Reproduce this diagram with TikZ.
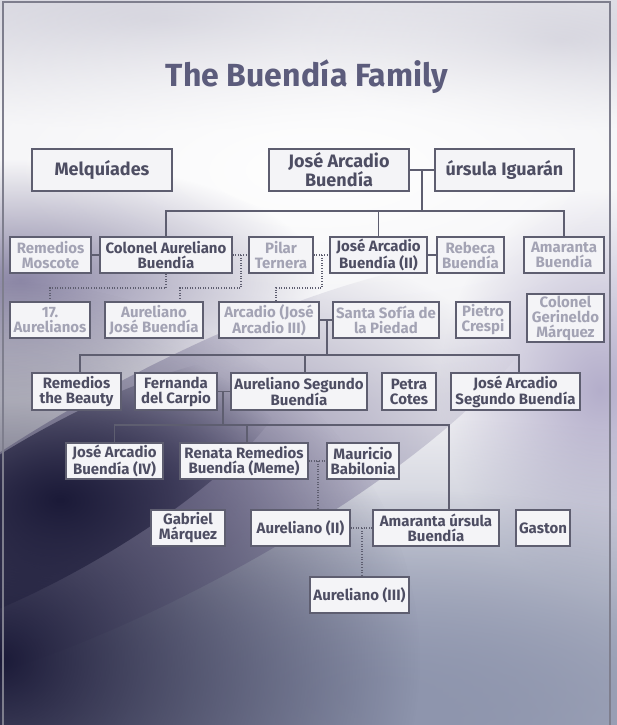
\documentclass[tikz,border=0pt]{standalone}
\usepackage{fontspec}
\setmainfont{Fira Sans}
\usetikzlibrary{fadings}
\definecolor{ink}{HTML}{4E4E63}
\definecolor{pale}{HTML}{A3A3B4}
\definecolor{edge}{HTML}{5E5E70}
\definecolor{boxfill}{HTML}{F4F4F7}
\definecolor{titlecol}{HTML}{5C5C7C}
\definecolor{bgbase}{HTML}{EEEEF2}
\definecolor{cloud}{HTML}{C6C5D2}
\definecolor{mauve}{HTML}{8C87A6}
\definecolor{navy}{HTML}{1B1A38}
\definecolor{steel}{HTML}{8E95AD}
\definecolor{lilac}{HTML}{B4AECB}
\tikzfading[name=soft, inner color=transparent!0, outer color=transparent!100]

\begin{document}
\begin{tikzpicture}[x=1pt,y=-1pt,
  b/.style={draw=edge,line width=1.3pt,fill=boxfill,inner sep=0pt,align=center,text=ink,
    font=\bfseries\fontsize{15}{15}\selectfont,minimum height=36pt},
  big/.style={b,font=\bfseries\fontsize{18}{16}\selectfont,minimum height=42pt},
  p/.style={b,text=pale},
  l/.style={draw=edge,line width=1.3pt},
  d/.style={draw=edge,line width=1.2pt,dash pattern=on 1pt off 1.6pt}]
\useasboundingbox (0,0) rectangle (617,725);

\fill[bgbase] (0,0) rectangle (617,725);
\begin{scope}
\clip (0,0) rectangle (617,725);
\fill[cloud,path fading=soft] (160,20) ellipse (420 and 110);
\fill[cloud,path fading=soft] (560,40) ellipse (260 and 90);
\fill[white,path fading=soft] (320,170) ellipse (620 and 240);
\fill[mauve,path fading=soft] (20,280) ellipse (300 and 120);
\fill[lilac,path fading=soft] (600,390) ellipse (160 and 200);
\fill[steel,path fading=soft] (420,720) ellipse (760 and 300);
\fill[steel,path fading=soft] (380,690) ellipse (560 and 200);
\fill[mauve,path fading=soft,rotate around={28:(170,480)}] (170,480) ellipse (420 and 110);
\fill[navy,path fading=soft] (0,660) ellipse (420 and 380);
\fill[navy,path fading=soft,rotate around={30:(60,500)}] (60,500) ellipse (260 and 70);
\end{scope}
\draw[edge!80,line width=1.2pt] (3,725) -- (3,2) -- (610,2) -- (610,725);

\node[text=titlecol,font=\bfseries\fontsize{32}{32}\selectfont] (title) at (307,77) {The Buendía Family};

\node[big,minimum width=140pt] (mel) at (102,170) {Melquíades};
\node[big,minimum width=140pt] (jab) at (339,170) {José Arcadio\\Buendía};
\node[big,minimum width=139pt] (urs) at (504.5,170) {úrsula Iguarán};

\node[p,minimum width=81pt] (rmo) at (50.5,255) {Remedios\\Moscote};
\node[b,minimum width=132pt] (col) at (166,255) {Colonel Aureliano\\Buendía};
\node[p,minimum width=64pt] (pil) at (281,255) {Pilar\\Ternera};
\node[b,minimum width=97pt] (ja2) at (378.5,255) {José Arcadio\\Buendía (II)};
\node[p,minimum width=67pt] (reb) at (470.5,255) {Rebeca\\Buendía};
\node[p,minimum width=80pt] (ama) at (564,255) {Amaranta\\Buendía};

\node[p,minimum width=80pt] (a17) at (50,320) {17.\\Aurelianos};
\node[p,minimum width=98pt] (ajb) at (154,320) {Aureliano\\José Buendía};
\node[p,minimum width=100pt] (arc) at (269,320) {Arcadio (José\\Arcadio III)};
\node[p,minimum width=106pt] (ssp) at (386,320) {Santa Sofía de\\la Piedad};
\node[p,minimum width=54pt] (pie) at (483,320) {Pietro\\Crespi};
\node[p,minimum width=77pt,minimum height=48pt] (ger) at (565.5,318) {Colonel\\Gerineldo\\Márquez};

\node[b,minimum width=89pt,minimum height=37pt] (rbe) at (76.5,391.5) {Remedios\\the Beauty};
\node[b,minimum width=82pt,minimum height=37pt] (fer) at (176,391.5) {Fernanda\\del Carpio};
\node[b,minimum width=136pt,minimum height=37pt] (asb) at (299,391.5) {Aureliano Segundo\\Buendía};
\node[b,minimum width=54pt,minimum height=37pt] (pet) at (409,391.5) {Petra\\Cotes};
\node[b,minimum width=129pt,minimum height=37pt] (jas) at (515.5,391.5) {José Arcadio\\Segundo Buendía};

\node[b,minimum width=97pt] (ja4) at (114.5,461) {José Arcadio\\Buendía (IV)};
\node[b,minimum width=128pt] (ren) at (244,461) {Renata Remedios\\Buendía (Meme)};
\node[b,minimum width=72pt] (mau) at (363,461) {Mauricio\\Babilonia};

\node[b,minimum width=74pt] (gab) at (188,528) {Gabriel\\Márquez};
\node[b,minimum width=99pt] (au2) at (300.5,528) {Aureliano (II)};
\node[b,minimum width=126pt] (amu) at (436,528) {Amaranta úrsula\\Buendía};
\node[b,minimum width=54pt] (gas) at (543,528) {Gaston};

\node[b,minimum width=99pt] (au3) at (359.5,595) {Aureliano (III)};

\coordinate (k1) at (422,211);
\coordinate (k2) at (241,288);
\coordinate (k3) at (322,288);
\coordinate (k4) at (327,355);
\coordinate (k5) at (223,425);
\coordinate (k6) at (318,461);
\coordinate (k7) at (362,528);

\draw[l] (jab) -- (urs);
\draw[l] (k1 |- jab.east) -- (k1);
\draw[l] (col.north) |- (k1) -| (ama.north);
\draw[l] (ja2.north) -- (ja2.north |- k1);
\draw[l] (rmo) -- (col);
\draw[l] (ja2) -- (reb);

\draw[d] (col.south) -- (col.south |- k2) -| (a17.north);
\draw[d] (col) -- (pil);
\draw[d] (k2 |- col.east) -- (k2) -| ([xshift=26pt]ajb.north);
\draw[d] (pil) -- (ja2);
\draw[d] (k3 |- pil.east) -- (k3) -| ([xshift=7pt]arc.north);

\draw[l] (arc) -- (ssp);
\draw[l] (k4 |- arc.east) -- (k4);
\draw[l] ([xshift=3.5pt]rbe.north) |- (k4) -| ([xshift=3.5pt]jas.north);
\draw[l] ([xshift=6pt]asb.north) -- ([xshift=6pt]asb.north |- k4);

\draw[l] (fer) -- (asb);
\draw[l] (k5 |- fer.east) -- (k5);
\draw[l] (ja4.north) |- (k5) -| ([xshift=13pt]amu.north);
\draw[l] ([xshift=3pt]ren.north) -- ([xshift=3pt]ren.north |- k5);

\draw[d] (ren) -- (mau);
\draw[d] (k6) -- (k6 |- au2.north);
\draw[d] (au2) -- (amu);
\draw[d] (k7) -- (k7 |- au3.north);
\end{tikzpicture}
\end{document}
